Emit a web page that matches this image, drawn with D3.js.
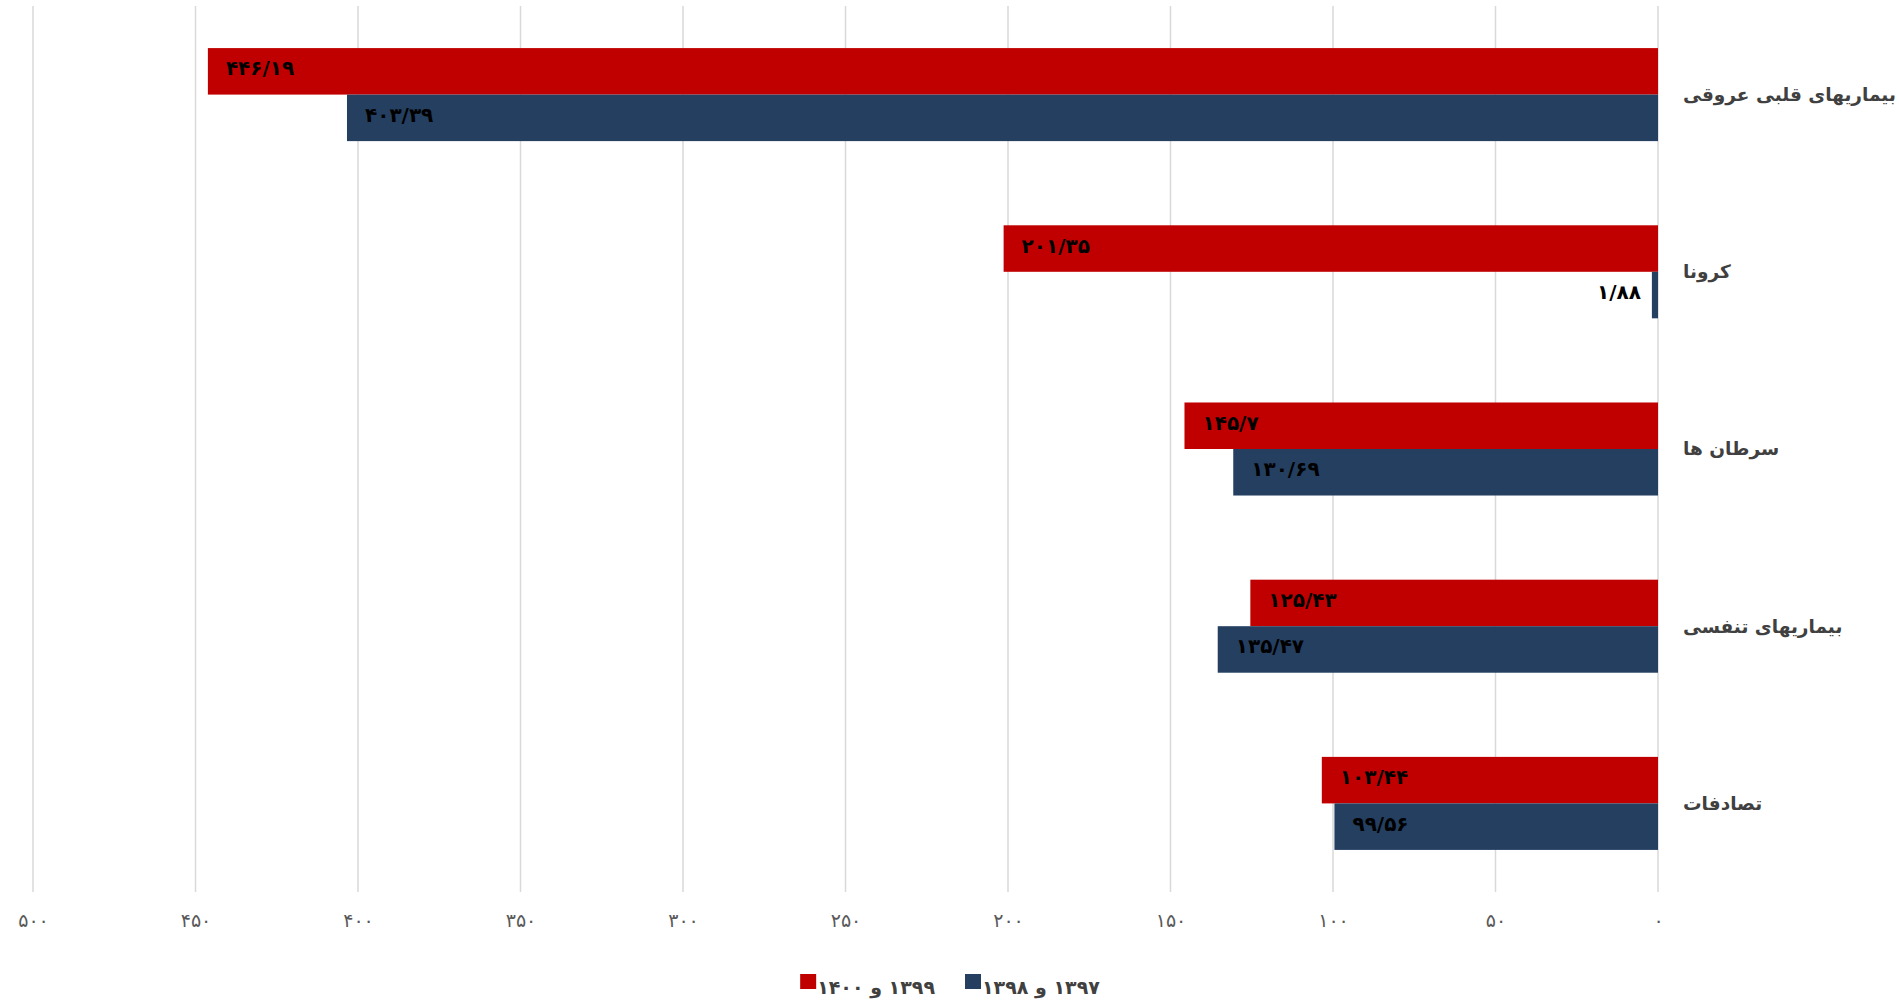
<!DOCTYPE html>
<html>
<head>
<meta charset="utf-8">
<script src="https://cdn.jsdelivr.net/npm/d3@7"></script>
<style>
  body { margin: 0; background: #fff; }
  text { font-family: "DejaVu Sans", sans-serif; }
</style>
</head>
<body>
<div id="chart"></div>
<script>
// Data
var categories = ["بیماریهای قلبی عروقی", "کرونا", "سرطان ها", "بیماریهای تنفسی", "تصادفات"];
var series = ["۱۳۹۹ و ۱۴۰۰", "۱۳۹۷ و ۱۳۹۸"];
var values1400 = [446.19, 201.35, 145.7, 125.43, 103.44];
var values1398 = [403.39, 1.88, 130.69, 135.47, 99.56];
var tickValues = [0, 50, 100, 150, 200, 250, 300, 350, 400, 450, 500];
var colors = ["#c00000", "#243f60"];

// Dimensions
var width = 1899, height = 1005;
var plot = {top: 6, bottom: 892, left: 33, right: 1658};

// persian digits, "/" as decimal sign
var faDigits = "۰۱۲۳۴۵۶۷۸۹";
function toFa(v) {
  return String(v).replace(/[0-9]/g, function(c){ return faDigits[+c]; }).replace(".", "/");
}

var svg = d3.select("#chart").append("svg")
  .attr("width", width)
  .attr("height", height);

// Scales (axis reversed, zero on the right)
var x = d3.scaleLinear()
  .domain([0, 500])
  .range([plot.right, plot.left]);

var y = d3.scaleBand()
  .domain(categories)
  .range([plot.top, plot.bottom])
  .paddingInner(0.475)
  .paddingOuter(0.2375);

var ySub = d3.scaleBand()
  .domain(series)
  .range([0, y.bandwidth()]);

// Grid lines
svg.append("g").selectAll("line")
  .data(tickValues).enter().append("line")
  .attr("x1", function(d){ return x(d); })
  .attr("x2", function(d){ return x(d); })
  .attr("y1", plot.top)
  .attr("y2", plot.bottom)
  .attr("stroke", "#d9d9d9")
  .attr("stroke-width", 1.5);

// X axis labels
var xAxis = d3.axisBottom(x)
  .tickValues(tickValues)
  .tickFormat(toFa)
  .tickSize(0)
  .tickPadding(22);

var gx = svg.append("g")
  .attr("transform", "translate(0," + plot.bottom + ")")
  .call(xAxis);
gx.select(".domain").remove();
gx.selectAll("text")
  .attr("dy", "0.71em")
  .style("font-family", "DejaVu Sans")
  .style("font-size", "19px")
  .attr("fill", "#595959");

// rows: one per category
var rows = categories.map(function(c, i){
  return {cat: c, vals: [values1400[i], values1398[i]]};
});

var groups = svg.selectAll(".cat")
  .data(rows).enter().append("g")
  .attr("class", "cat")
  .attr("transform", function(d){ return "translate(0," + y(d.cat) + ")"; });

groups.selectAll("rect")
  .data(function(d){ return d.vals.map(function(v, j){ return {v: v, s: series[j], c: colors[j]}; }); })
  .enter().append("rect")
  .attr("x", function(d){ return x(d.v); })
  .attr("y", function(d){ return ySub(d.s); })
  .attr("width", function(d){ return x(0) - x(d.v); })
  .attr("height", ySub.bandwidth())
  .attr("fill", function(d){ return d.c; });

// value labels
groups.selectAll(".val")
  .data(function(d){ return d.vals.map(function(v, j){ return {v: v, s: series[j]}; }); })
  .enter().append("text")
  .attr("class", "val")
  .attr("x", function(d){
    var w = x(0) - x(d.v);
    return w < 60 ? x(d.v) - 11 : x(d.v) + 18;
  })
  .attr("y", function(d){ return ySub(d.s) + ySub.bandwidth() / 2 - 3; })
  .attr("dominant-baseline", "central")
  .attr("text-anchor", function(d){ return (x(0) - x(d.v)) < 60 ? "end" : "start"; })
  .style("font-size", "20px")
  .style("font-weight", "bold")
  .attr("fill", "#000")
  .text(function(d){ return toFa(d.v); });

// category labels
groups.append("text")
  .attr("x", plot.right + 25)
  .attr("y", y.bandwidth() / 2)
  .attr("dominant-baseline", "central")
  .attr("text-anchor", "start")
  .style("font-size", "18.5px")
  .style("font-weight", "bold")
  .attr("fill", "#404040")
  .text(function(d){ return d.cat; });

// Legend
var legend = svg.append("g");
var lx = 0;
series.forEach(function(s, i){
  var item = legend.append("g").attr("transform", "translate(" + lx + ",0)");
  item.append("rect")
    .attr("x", 0).attr("y", 974)
    .attr("width", 16).attr("height", 15)
    .attr("fill", colors[i]);
  var t = item.append("text")
    .attr("x", 17)
    .attr("y", 987)
    .attr("dominant-baseline", "central")
    .attr("direction", "rtl")
    .attr("text-anchor", "end")
    .style("font-size", "19px")
    .style("font-weight", "bold")
    .attr("fill", "#404040")
    .text(s);
  lx += 17 + t.node().getComputedTextLength() + 30;
});
var lw = lx - 30;
legend.attr("transform", "translate(" + (950 - lw / 2) + ",0)");
</script>
</body>
</html>
